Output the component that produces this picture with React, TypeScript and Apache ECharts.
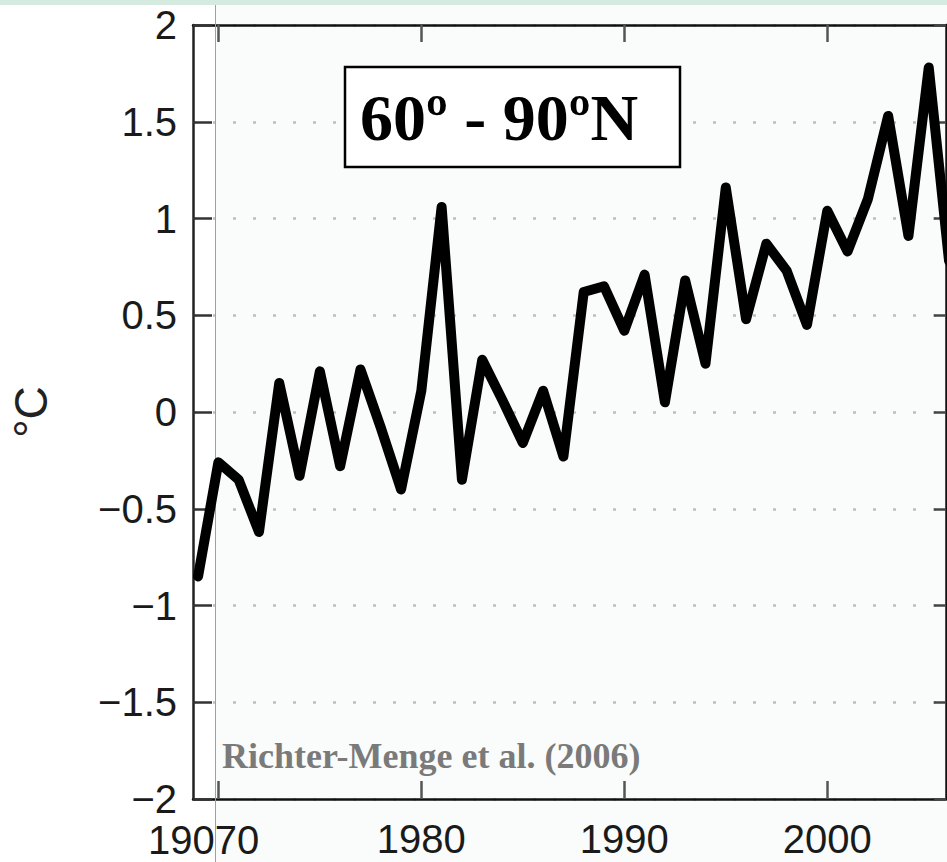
import React, { useEffect, useRef } from "react";
import * as echarts from "echarts";

const years = [
  1969, 1970, 1971, 1972, 1973, 1974, 1975, 1976, 1977, 1978, 1979, 1980, 1981,
  1982, 1983, 1984, 1985, 1986, 1987, 1988, 1989, 1990, 1991, 1992, 1993, 1994,
  1995, 1996, 1997, 1998, 1999, 2000, 2001, 2002, 2003, 2004, 2005, 2006,
];
const anomalies = [
  -0.85, -0.26, -0.35, -0.62, 0.15, -0.33, 0.21, -0.28, 0.22, -0.08, -0.4, 0.11,
  1.06, -0.35, 0.27, 0.06, -0.16, 0.11, -0.23, 0.62, 0.65, 0.42, 0.71, 0.05, 0.68,
  0.25, 1.16, 0.48, 0.87, 0.73, 0.45, 1.04, 0.83, 1.1, 1.53, 0.91, 1.78, 0.78,
];
const xTickValues = [1970, 1980, 1990, 2000];
const xLabelValues = [1980, 1990, 2000];
const firstXLabel = "19070";
const yAxisTitle = "°C";
const boxTitle = "60º - 90ºN";
const sourceText = "Richter-Menge et al. (2006)";

export default function App() {
  const ref = useRef<HTMLDivElement>(null);
  useEffect(() => {
    if (!ref.current) return;
    const chart = echarts.init(ref.current, null, { renderer: "svg" });
    const sans = "'Liberation Sans', Arial, Helvetica, sans-serif";
    const serif = "'Liberation Serif', 'Times New Roman', serif";
    const labelSize = 40;
    const xMin = 1968.75;
    const xMax = 2005.85;
    const frame = { show: true, onZero: false, lineStyle: { color: "#111", width: 2.5 } };
    chart.setOption({
      animation: false,
      backgroundColor: "#ffffff",
      grid: { left: 193, right: 1, top: 25, bottom: 63, containLabel: false },
      xAxis: [
        {
          type: "value",
          position: "bottom",
          min: xMin,
          max: xMax,
          axisLine: frame,
          axisTick: {
            show: true,
            inside: true,
            length: 18,
            customValues: xTickValues,
            lineStyle: { color: "#555", width: 2.5 },
          },
          axisLabel: {
            show: true,
            customValues: xLabelValues,
            fontSize: labelSize,
            fontFamily: sans,
            color: "#1a1a1a",
            margin: 20,
            formatter: (v: number) => String(Math.round(v)),
          },
          splitLine: { show: false },
        },
        {
          type: "value",
          position: "top",
          min: xMin,
          max: xMax,
          axisLine: frame,
          axisTick: {
            show: true,
            inside: true,
            length: 17,
            customValues: xTickValues,
            lineStyle: { color: "#555", width: 2.5 },
          },
          axisLabel: { show: false },
          splitLine: { show: false },
        },
      ],
      yAxis: [
        {
          type: "value",
          position: "left",
          min: -2,
          max: 2,
          interval: 0.5,
          axisLine: { show: true, onZero: false, lineStyle: { color: "#222", width: 2.5 } },
          axisTick: {
            show: true,
            inside: true,
            length: 19,
            lineStyle: { color: "#333", width: 2.5 },
          },
          axisLabel: {
            fontSize: labelSize,
            fontFamily: sans,
            color: "#1a1a1a",
            margin: 16,
            formatter: (v: number) => String(v).replace("-", "\u2212"),
          },
          splitLine: {
            show: true,
            lineStyle: { color: "#bdbdbd", width: 2.5, type: [3, 17] },
          },
        },
        {
          type: "value",
          position: "right",
          min: -2,
          max: 2,
          interval: 0.5,
          axisLine: frame,
          axisTick: {
            show: true,
            inside: true,
            length: 12,
            lineStyle: { color: "#444", width: 2.5 },
          },
          axisLabel: { show: false },
          splitLine: { show: false },
        },
      ],
      series: [
        {
          type: "line",
          data: years.map((y, i) => [y, anomalies[i]]),
          xAxisIndex: 0,
          yAxisIndex: 0,
          showSymbol: false,
          symbol: "none",
          clip: true,
          z: 5,
          lineStyle: { color: "#000", width: 10, join: "round", cap: "round" },
        },
      ],
      graphic: [
        {
          type: "rect",
          z: -10,
          silent: true,
          shape: { x: 215.5, y: 5, width: 732, height: 857 },
          style: { fill: "#f9fcfa" },
        },
        {
          type: "rect",
          z: 20,
          silent: true,
          shape: { x: 0, y: 0, width: 947, height: 5 },
          style: { fill: "#d5ebdf" },
        },
        {
          type: "line",
          z: 1,
          silent: true,
          shape: { x1: 215.5, y1: 5, x2: 215.5, y2: 862 },
          style: { stroke: "#a0a0a0", lineWidth: 1 },
        },
        {
          type: "rect",
          z: 20,
          shape: { x: 345, y: 67, width: 335, height: 100 },
          style: { fill: "#ffffff", stroke: "#000", lineWidth: 2.5 },
        },
        {
          type: "text",
          z: 21,
          x: 499,
          y: 117,
          style: {
            text: boxTitle,
            fontFamily: serif,
            fontWeight: "bold",
            fontSize: 66,
            fill: "#000",
            align: "center",
            verticalAlign: "middle",
          },
        },
        {
          type: "text",
          z: 21,
          x: 222,
          y: 756,
          style: {
            text: sourceText,
            fontFamily: serif,
            fontWeight: "bold",
            fontSize: 36,
            fill: "#7a7a7a",
            align: "left",
            verticalAlign: "middle",
          },
        },
        {
          type: "text",
          z: 21,
          x: 31,
          y: 412,
          rotation: Math.PI / 2,
          style: {
            text: yAxisTitle,
            fontFamily: sans,
            fontSize: 46,
            fill: "#222",
            align: "center",
            verticalAlign: "middle",
          },
        },
        {
          type: "text",
          z: 21,
          x: 148,
          y: 820,
          style: {
            text: firstXLabel,
            fontFamily: sans,
            fontSize: labelSize,
            fill: "#1a1a1a",
            align: "left",
            verticalAlign: "top",
          },
        },
      ],
    });
    return () => chart.dispose();
  }, []);
  return (
    <div
      ref={ref}
      style={{ position: "fixed", left: 0, top: 0, width: 947, height: 862 }}
    />
  );
}
